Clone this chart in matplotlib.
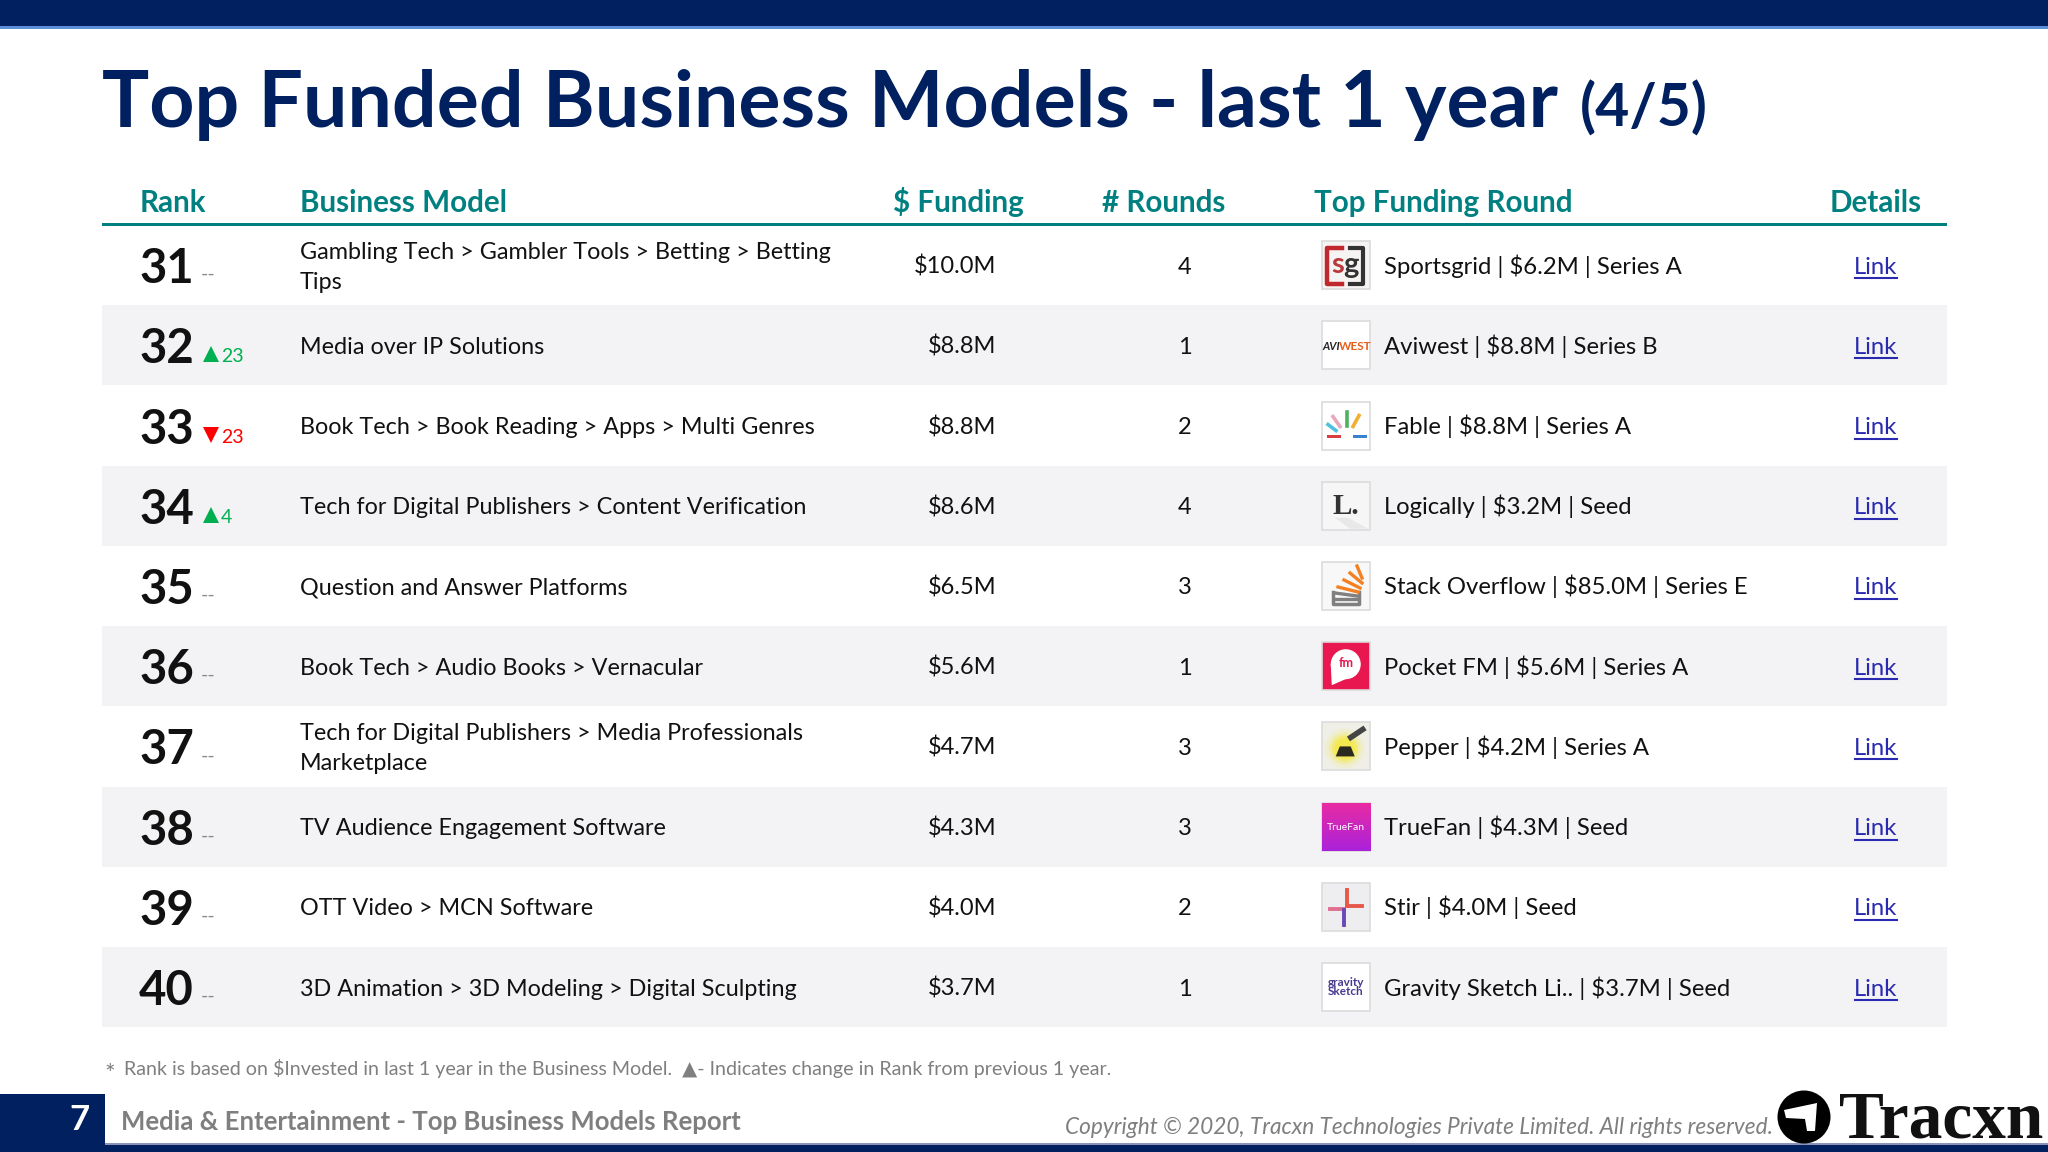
import numpy as np
import matplotlib
matplotlib.use("Agg")
import matplotlib.pyplot as plt
from matplotlib.patches import Rectangle, Circle, Polygon

ranks = [31, 32, 33, 34, 35, 36, 37, 38, 39, 40]
rank_changes = [None, 23, -23, 4, None, None, None, None, None, None]
models = [
    "Gambling Tech > Gambler Tools > Betting > Betting\nTips",
    "Media over IP Solutions",
    "Book Tech > Book Reading > Apps > Multi Genres",
    "Tech for Digital Publishers > Content Verification",
    "Question and Answer Platforms",
    "Book Tech > Audio Books > Vernacular",
    "Tech for Digital Publishers > Media Professionals\nMarketplace",
    "TV Audience Engagement Software",
    "OTT Video > MCN Software",
    "3D Animation > 3D Modeling > Digital Sculpting",
]
funding = ["$10.0M", "$8.8M", "$8.8M", "$8.6M", "$6.5M", "$5.6M", "$4.7M", "$4.3M", "$4.0M", "$3.7M"]
rounds = [4, 1, 2, 4, 3, 1, 3, 3, 2, 1]
top_rounds = [
    "Sportsgrid | $6.2M | Series A", "Aviwest | $8.8M | Series B", "Fable | $8.8M | Series A",
    "Logically | $3.2M | Seed", "Stack Overflow | $85.0M | Series E", "Pocket FM | $5.6M | Series A",
    "Pepper | $4.2M | Series A", "TrueFan | $4.3M | Seed", "Stir | $4.0M | Seed",
    "Gravity Sketch Li.. | $3.7M | Seed",
]
headers = ["Rank", "Business Model", "$ Funding", "# Rounds", "Top Funding Round", "Details"]

NAVY = "#002060"; TEAL = "#008080"; BAND = "#f3f3f5"; LINK = "#2a2ab0"; INK = "#111111"
plt.rcParams["font.family"] = ["Lato", "DejaVu Sans"]

fig = plt.figure(figsize=(20.48, 11.52), dpi=100)
ax = fig.add_axes([0, 0, 1, 1])
ax.set_xlim(0, 2048); ax.set_ylim(1152, 0); ax.axis("off")

def rect(x0, y0, x1, y1, c, z=1, **k):
    ax.add_patch(Rectangle((x0, y0), x1 - x0, y1 - y0, fc=c, ec=k.pop("ec", "none"), lw=k.pop("lw", 0), zorder=z, **k))

# frame
rect(0, 0, 2048, 26, NAVY); rect(0, 26, 2048, 28.5, "#5b8fd8")
rect(0, 1094, 105, 1152, NAVY); rect(0, 1145, 2048, 1152, NAVY); rect(105, 1143, 2048, 1145, "#8a94b8")

ax.text(102, 127, "Top Funded Business Models - last 1 year", fontsize=56.8, fontweight="bold", color=NAVY, va="baseline")
ax.text(1580, 127, "(4/5)", fontsize=42.4, fontweight="bold", color=NAVY, va="baseline")

hx = [140, 300, 958, 1164, 1314, 1876]
ha = ["left", "left", "center", "center", "left", "center"]
for x, h, a in zip(hx, headers, ha):
    ax.text(x, 212, h, fontsize=21.3, fontweight="bold", color=TEAL, ha=a, va="baseline")
rect(102, 222.5, 1947, 225.5, TEAL)

top, rh = 225, 80.22
BODY = 17

def logo(i, cy):
    x0, x1, y0, y1 = 1321.5, 1370, cy - 24, cy + 24
    cx = (x0 + x1) / 2
    face = ["#f6f3f3", "#ffffff", "#ffffff", "#f6f6f7", "#f8f8f8", "#e8174f", "#efefe8", "#c326b8", "#eeeef0", "#ffffff"][i]
    rect(x0, y0, x1, y1, face, z=3, ec="#dcdcdc", lw=1.2)
    if i == 0:
        ax.plot([1342, 1327, 1327, 1342], [cy - 17, cy - 17, cy + 19, cy + 19], color="#c0282d", lw=3.2, zorder=4)
        ax.plot([1350, 1363, 1363, 1350], [cy - 17, cy - 17, cy + 19, cy + 19], color="#333333", lw=3, zorder=4)
        ax.text(1337.5, cy + 8, "s", fontsize=21, fontweight="bold", color="#b8383c", ha="center", va="baseline", zorder=5)
        ax.text(1351, cy + 8, "g", fontsize=21, fontweight="bold", color="#333333", ha="center", va="baseline", zorder=5)
    elif i == 1:
        ax.text(cx - 14, cy + 1, "AVI", fontsize=8, fontweight="bold", style="italic", color="#222222", ha="center", va="center", zorder=5)
        ax.text(cx + 9, cy + 1, "WEST", fontsize=8.5, fontweight="bold", color="#e8601c", ha="center", va="center", zorder=5)
    elif i == 2:
        for (a, b, c, d, col) in [(1340, cy + 1, 1333, cy - 9, "#e8a8c0"), (1347, cy, 1347, cy - 14, "#4fb060"),
                                  (1353, cy + 1, 1359, cy - 10, "#f0b030"), (1336, cy + 5, 1328, cy - 1, "#50c0e0")]:
            ax.plot([a, c], [b, d], color=col, lw=2.6, zorder=5)
        rect(1327, cy + 9, 1341, cy + 12, "#d84040", z=5); rect(1353, cy + 9, 1367, cy + 12, "#3a80d0", z=5)
    elif i == 3:
        ax.add_patch(Polygon([(1335, cy + 12), (1348, cy + 12), (1368, cy + 23), (1350, cy + 23)], fc="#e8e8e8", ec="none", zorder=4))
        ax.text(cx, cy + 1, "L.", fontsize=21, fontweight="bold", family="Liberation Serif", color="#333333", ha="center", va="center", zorder=5)
    elif i == 4:
        ax.plot([x0 + 11, x0 + 11, x1 - 11, x1 - 11], [cy + 6, cy + 18, cy + 18, cy + 6], color="#808080", lw=2.5, zorder=5)
        for dy, (a, b, c, d) in zip(range(4), [(1334, cy + 13, 1356, cy + 13), (1335, cy + 7, 1357, cy + 10), (1338, cy + 1, 1358, cy + 6), (1344, cy - 6, 1360, cy + 2)]):
            ax.plot([a, c], [b, d], color="#808080" if dy < 2 else "#f48024", lw=2.4, zorder=5)
        ax.plot([1350, 1362], [cy - 13, cy - 3], color="#f48024", lw=2.4, zorder=5)
        ax.plot([1357, 1362], [cy - 20, cy - 8], color="#f48024", lw=2.4, zorder=5)
    elif i == 5:
        ax.add_patch(Circle((cx, cy - 2), 15, fc="white", ec="none", zorder=5))
        ax.add_patch(Polygon([(cx - 15, cy - 2), (cx - 14, cy + 19), (cx + 2, cy + 12)], fc="white", ec="none", zorder=5))
        ax.text(cx, cy - 3, "fm", fontsize=9, fontweight="bold", color="#e8174f", ha="center", va="center", zorder=6)
    elif i == 6:
        for r, al in [(20, 0.15), (16, 0.3), (13, 0.6), (10, 1.0)]:
            ax.add_patch(Circle((cx - 1, cy + 2), r, fc="#f4ea50", ec="none", alpha=al, zorder=4))
        ax.add_patch(Polygon([(cx - 10, cy + 10), (cx + 9, cy + 10), (cx + 5, cy), (cx - 6, cy)], fc="#2a2a20", ec="none", zorder=5))
        ax.plot([cx + 5, cx + 17], [cy - 9, cy - 17], color="#444444", lw=4, zorder=5)
    elif i == 7:
        grad = np.linspace(0, 1, 48)[:, None, None]
        img = (1 - grad) * np.array([[[0.91, 0.17, 0.64]]]) + grad * np.array([[[0.67, 0.13, 0.86]]])
        ax.imshow(img, extent=(x0, x1, y1, y0), aspect="auto", zorder=4)
        ax.set_xlim(0, 2048); ax.set_ylim(1152, 0)
        ax.text(cx, cy + 1, "TrueFan", fontsize=7.5, color="white", ha="center", va="center", zorder=5)
    elif i == 8:
        ax.plot([cx + 1, cx + 1], [cy - 17, cy - 1], color="#e8584a", lw=2.8, zorder=5)
        ax.plot([cx + 1, cx + 16], [cy - 1, cy - 1], color="#e8584a", lw=2.8, zorder=5)
        ax.plot([cx - 16, cx - 2], [cy + 2, cy + 2], color="#e07090", lw=2.8, zorder=5)
        ax.plot([cx - 2, cx - 2], [cy + 3, cy + 18], color="#6a48b8", lw=2.8, zorder=5)
    elif i == 9:
        ax.text(cx, cy, "gravity\nSketch", fontsize=8.5, fontweight="bold", linespacing=0.8, color="#4a3a90", ha="center", va="center", zorder=5)

for i in range(10):
    y0 = top + i * rh
    cy = y0 + rh / 2
    if i % 2 == 1:
        rect(102, y0, 1947, y0 + rh, BAND, z=1)
    base = cy + 8.5
    ax.text(139, cy + 18, str(ranks[i]), fontsize=34, fontweight="bold", color=INK, va="baseline", zorder=3)
    ch = rank_changes[i]
    if ch is None:
        ax.text(201, cy + 15, "--", fontsize=14, color="#8a8a8a", va="baseline", zorder=3)
    else:
        col = "#00b050" if ch > 0 else "#ff0000"
        ax.plot([211], [cy + 9], marker="^" if ch > 0 else "v", ms=12, color=col, mew=0, zorder=3)
        ax.text(221, cy + 17, str(abs(ch)), fontsize=14, color=col, va="baseline", zorder=3)
    lines = models[i].split("\n")
    for j, line in enumerate(lines):
        ax.text(300, base - 15 * (len(lines) - 1) + 30 * j, line, fontsize=16.8, color=INK, va="baseline", zorder=3)
    ax.text(996.5, base, funding[i], fontsize=BODY, color=INK, ha="right", va="baseline", zorder=3)
    ax.text(1185, base, str(rounds[i]), fontsize=BODY, color=INK, ha="center", va="baseline", zorder=3)
    logo(i, cy)
    ax.text(1384, base, top_rounds[i], fontsize=BODY + 0.2, color=INK, va="baseline", zorder=3)
    ax.text(1876, base, "Link", fontsize=BODY + 0.2, color=LINK, ha="center", va="baseline", zorder=3)
    ax.plot([1855, 1897], [cy + 13, cy + 13], color=LINK, lw=1.5, zorder=3)

ax.text(104, 1082, "*", fontsize=18, color="#7f7f7f", va="baseline")
ax.text(124, 1075.5, "Rank is based on $Invested in last 1 year in the Business Model.  ▲- Indicates change in Rank from previous 1 year.",
        fontsize=14.1, color="#7f7f7f", va="baseline")
ax.text(79, 1120, "7", fontsize=25, fontweight="bold", color="white", ha="center", va="center", zorder=3)
ax.text(121, 1130.5, "Media & Entertainment - Top Business Models Report", fontsize=18.5, fontweight="bold", color="#7f7f7f", va="baseline")
ax.text(1065, 1134, "Copyright © 2020, Tracxn Technologies Private Limited. All rights reserved.", fontsize=16.3, style="italic", color="#7f7f7f", va="baseline")

ax.add_patch(Circle((1804, 1117), 26.5, fc="black", ec="none", zorder=4))
ax.add_patch(Polygon([(1784, 1110), (1817, 1103), (1815, 1131), (1807, 1131), (1805, 1119), (1786, 1118)], fc="white", ec="none", zorder=5))
ax.text(1839, 1137, "Tracxn", fontsize=48.5, fontweight="bold", family="Liberation Serif", color="#111111", va="baseline", zorder=4)

fig.savefig("out.png", dpi=100)
